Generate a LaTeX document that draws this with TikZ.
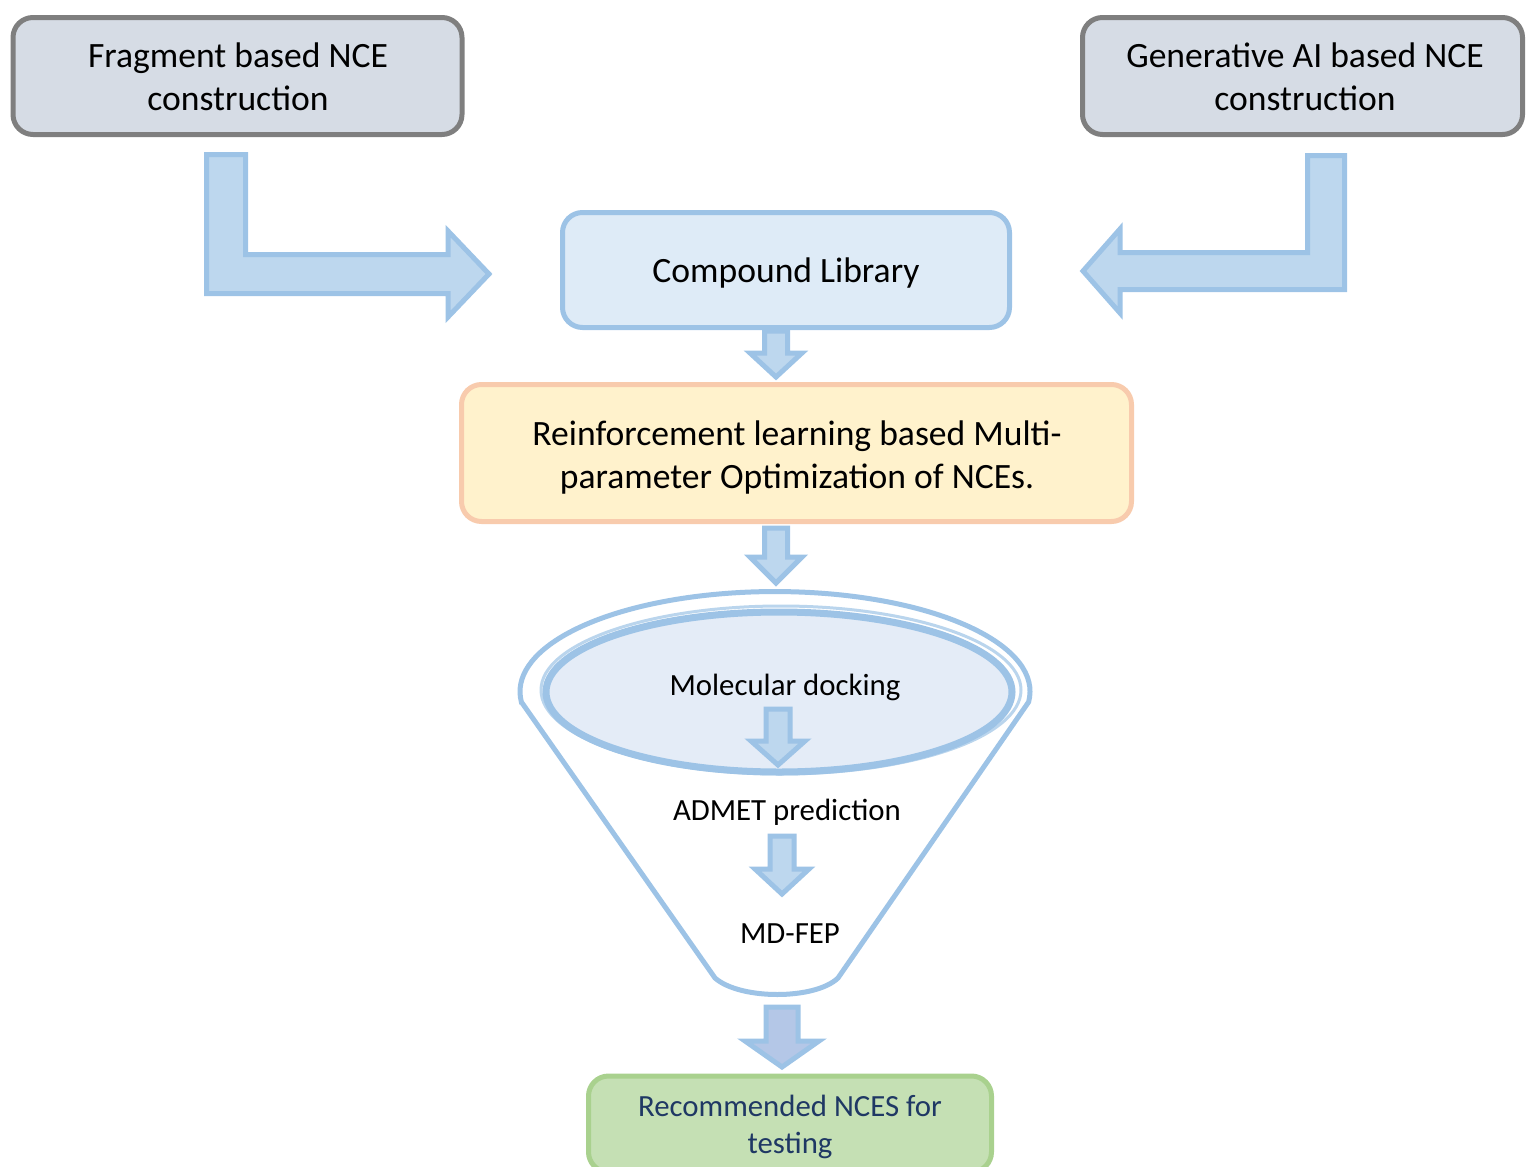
\documentclass[tikz,border=0pt]{standalone}
\usepackage{fontspec}
\setmainfont{Carlito}
\usetikzlibrary{calc}
\definecolor{arrfill}{HTML}{BDD7EE}
\definecolor{arrline}{HTML}{9DC3E6}
\definecolor{grayline}{HTML}{7F7F7F}
\definecolor{grayfill}{HTML}{D6DCE5}
\definecolor{libfill}{HTML}{DEEBF7}
\definecolor{rlfill}{HTML}{FFF2CC}
\definecolor{rlline}{HTML}{F8CBAD}
\definecolor{grfill}{HTML}{C5E0B4}
\definecolor{grline}{HTML}{A9D18E}
\definecolor{navy}{HTML}{1F3864}
\definecolor{ellfill}{HTML}{E4ECF7}
\definecolor{botfill}{HTML}{B4C7E7}
\tikzset{
  box/.style={rounded corners=10pt, line width=2.5pt, align=center, inner sep=0pt},
  boxtext/.style={align=center, inner sep=0pt, font=\fontsize{17.8}{21.5}\selectfont},
  graybox/.style={box, draw=grayline, fill=grayfill},
  libbox/.style={box, draw=arrline, fill=libfill},
  rlbox/.style={box, draw=rlline, fill=rlfill},
  greenbox/.style={box, draw=grline, fill=grfill},
  greentext/.style={align=center, inner sep=0pt, text=navy, font=\fontsize{15.4}{18.5}\selectfont},
  blockarr/.style={fill=arrfill, draw=arrline, line width=2.5pt, line join=miter},
  funnelline/.style={draw=arrline, line width=2.5pt},
  steplabel/.style={inner sep=0pt, font=\fontsize{15.4}{18}\selectfont},
}
% down block arrow: #1 centre x, #2 top y, #3 head base y, #4 tip y, #5 shaft half, #6 head half, #7 style
\newcommand{\blockdown}[7]{%
  \draw[blockarr,#7] (#1-#5,#2) -- (#1+#5,#2) -- (#1+#5,#3) -- (#1+#6,#3) -- (#1,#4)
    -- (#1-#6,#3) -- (#1-#5,#3) -- cycle;}
\begin{document}
\begin{tikzpicture}[x=0.5pt,y=-0.5pt]
\useasboundingbox (0,0) rectangle (1527,1167);

% boxes
\node[graybox, minimum width=224.5pt, minimum height=58.5pt] (frag) at (237.5,76) {};
\node[boxtext] (fragt) at (238,77) {Fragment based NCE\\construction};
\node[graybox, minimum width=220pt, minimum height=58.5pt] (gen) at (1302.5,76) {};
\node[boxtext] (gent) at (1305,77) {Generative AI based NCE\\construction};
\node[libbox, minimum width=223.5pt, minimum height=57.5pt] (lib) at (786,270) {};
\node[boxtext] (libt) at (786,273) {Compound Library};
\node[rlbox, minimum width=335pt, minimum height=68.5pt] (rl) at (796.5,453) {};
\node[boxtext] (rlt) at (797,458) {Reinforcement learning based Multi-\\parameter Optimization of NCEs.};
\node[greenbox, minimum width=201.5pt, minimum height=48pt] (rec) at (790,1124) {};
\node[greentext] (rect) at (790,1127) {Recommended NCES for\\testing};

% bent arrows
\coordinate (la1) at (206.5,154.5);
\coordinate (la2) at (489,274);
\draw[blockarr] (la1) -- (245.5,154.5) -- (245.5,254.5) -- (448,254.5) -- (448,231)
  -- (la2) -- (448,317) -- (448,293.5) -- (206.5,293.5) -- cycle;
\coordinate (ra1) at (1344.5,155.5);
\coordinate (ra2) at (1083,271);
\draw[blockarr] (ra1) -- (1307.5,155.5) -- (1307.5,252.5) -- (1120,252.5) -- (1120,229)
  -- (ra2) -- (1120,313) -- (1120,289.5) -- (1344.5,289.5) -- cycle;

% small arrows
\blockdown{776}{331}{353}{377}{11.5}{26}{}
\blockdown{776}{528}{557}{583}{11.5}{26}{}

% funnel
\coordinate (fl) at (521.4,702);
\coordinate (fr) at (1028.6,702);
\draw[funnelline, fill=white] (fl) -- (715,978)
  .. controls (740,1000) and (815,1000) .. (838,978) -- (fr)
  arc[start angle=6, end angle=-186, x radius=255, y radius=100]
  -- cycle;
\draw[draw=arrline!70, line width=1.5pt] (781,690) ellipse[x radius=240, y radius=84];
\draw[funnelline, fill=ellfill, line width=3.5pt] (779,692) ellipse[x radius=233, y radius=80];
\node[steplabel] (dock) at (785,687) {Molecular docking};
\node[steplabel] (admet) at (787,812) {ADMET prediction};
\node[steplabel] (fep) at (790,934) {MD-FEP};
\blockdown{778}{709}{741}{765}{12}{27}{}
\blockdown{782}{836}{869}{894}{12}{27}{}

% bottom arrow
\blockdown{782}{1007}{1041}{1067}{16}{37}{fill=botfill}
\end{tikzpicture}
\end{document}
